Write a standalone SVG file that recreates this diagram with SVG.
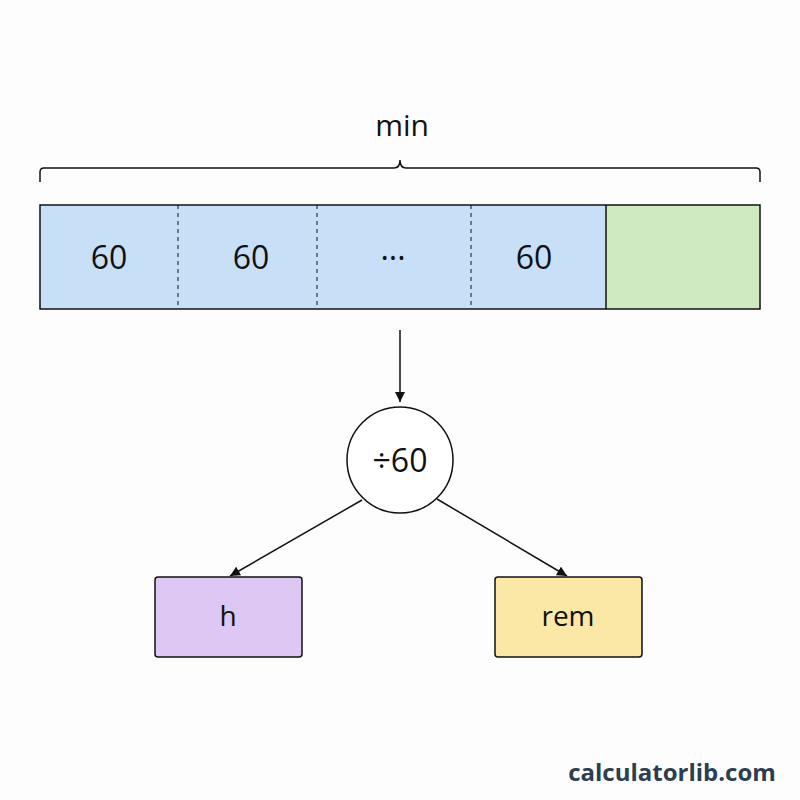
<svg xmlns="http://www.w3.org/2000/svg" width="800" height="800" viewBox="0 0 800 800">
<style>
text{font-family:"Open Sans","Liberation Sans",sans-serif;fill:#111;text-anchor:middle}
.n{stroke:#111;stroke-width:1.5}
.c{stroke:#111;stroke-width:1.5;fill:none}
</style>
<defs><marker id="a" viewBox="0 0 10 10" refX="10" refY="5" markerWidth="10" markerHeight="10" markerUnits="userSpaceOnUse" orient="auto"><path d="M0,0L10,5L0,10z" fill="#111"/></marker>
<marker id="b" viewBox="0 0 10 10" refX="10" refY="5" markerWidth="12" markerHeight="14" markerUnits="userSpaceOnUse" orient="auto"><path d="M0,0L10,5L0,10z" fill="#111"/></marker></defs>
<rect width="800" height="800" fill="#fdfdfd"/>
<g id="brace"><path class="c" d="M40,182 V172 Q40,168 44,168 H394 Q400,168 400,160 Q400,168 406,168 H756 Q760,168 760,172 V182"/>
<text x="402" y="136" font-size="30">min</text></g>
<g id="bar">
<rect x="40" y="205" width="566" height="104" fill="#c7e0f8"/>
<rect x="606" y="205" width="154" height="104" fill="#cfeac0"/>
<path d="M178,205V309M317,205V309M471,205V309" stroke="#111" stroke-width="1" stroke-dasharray="4,4"/>
<path d="M606,205V309" stroke="#111" stroke-width="1.5"/>
<rect x="40" y="205" width="720" height="104" fill="none" stroke="#111" stroke-width="1.5"/>
<text x="109" y="269" font-size="32">60</text>
<text x="251" y="269" font-size="32">60</text>
<text x="393" y="269" font-size="32">···</text>
<text x="534" y="269" font-size="32">60</text>
</g>
<g id="connectors">
<path class="c" d="M400,330V402" marker-end="url(#a)"/>
<path class="c" d="M362,500L230,576" marker-end="url(#a)"/>
<path class="c" d="M437,499L567,576" marker-end="url(#a)"/>
</g>
<g id="div"><circle cx="400" cy="460" r="53" fill="#fff" class="n"/><text x="400" y="472" font-size="32">÷60</text></g>
<g id="h"><rect x="155" y="577" width="147" height="80" rx="3" fill="#dcc8f3" class="n"/><text x="228" y="626" font-size="28">h</text></g>
<g id="rem"><rect x="495" y="577" width="147" height="80" rx="3" fill="#fbe7a6" class="n"/><text x="568" y="626" font-size="28">rem</text></g>
<text x="672" y="781" font-size="24" font-weight="bold" style="fill:#2c3e50">calculatorlib.com</text>
</svg>
